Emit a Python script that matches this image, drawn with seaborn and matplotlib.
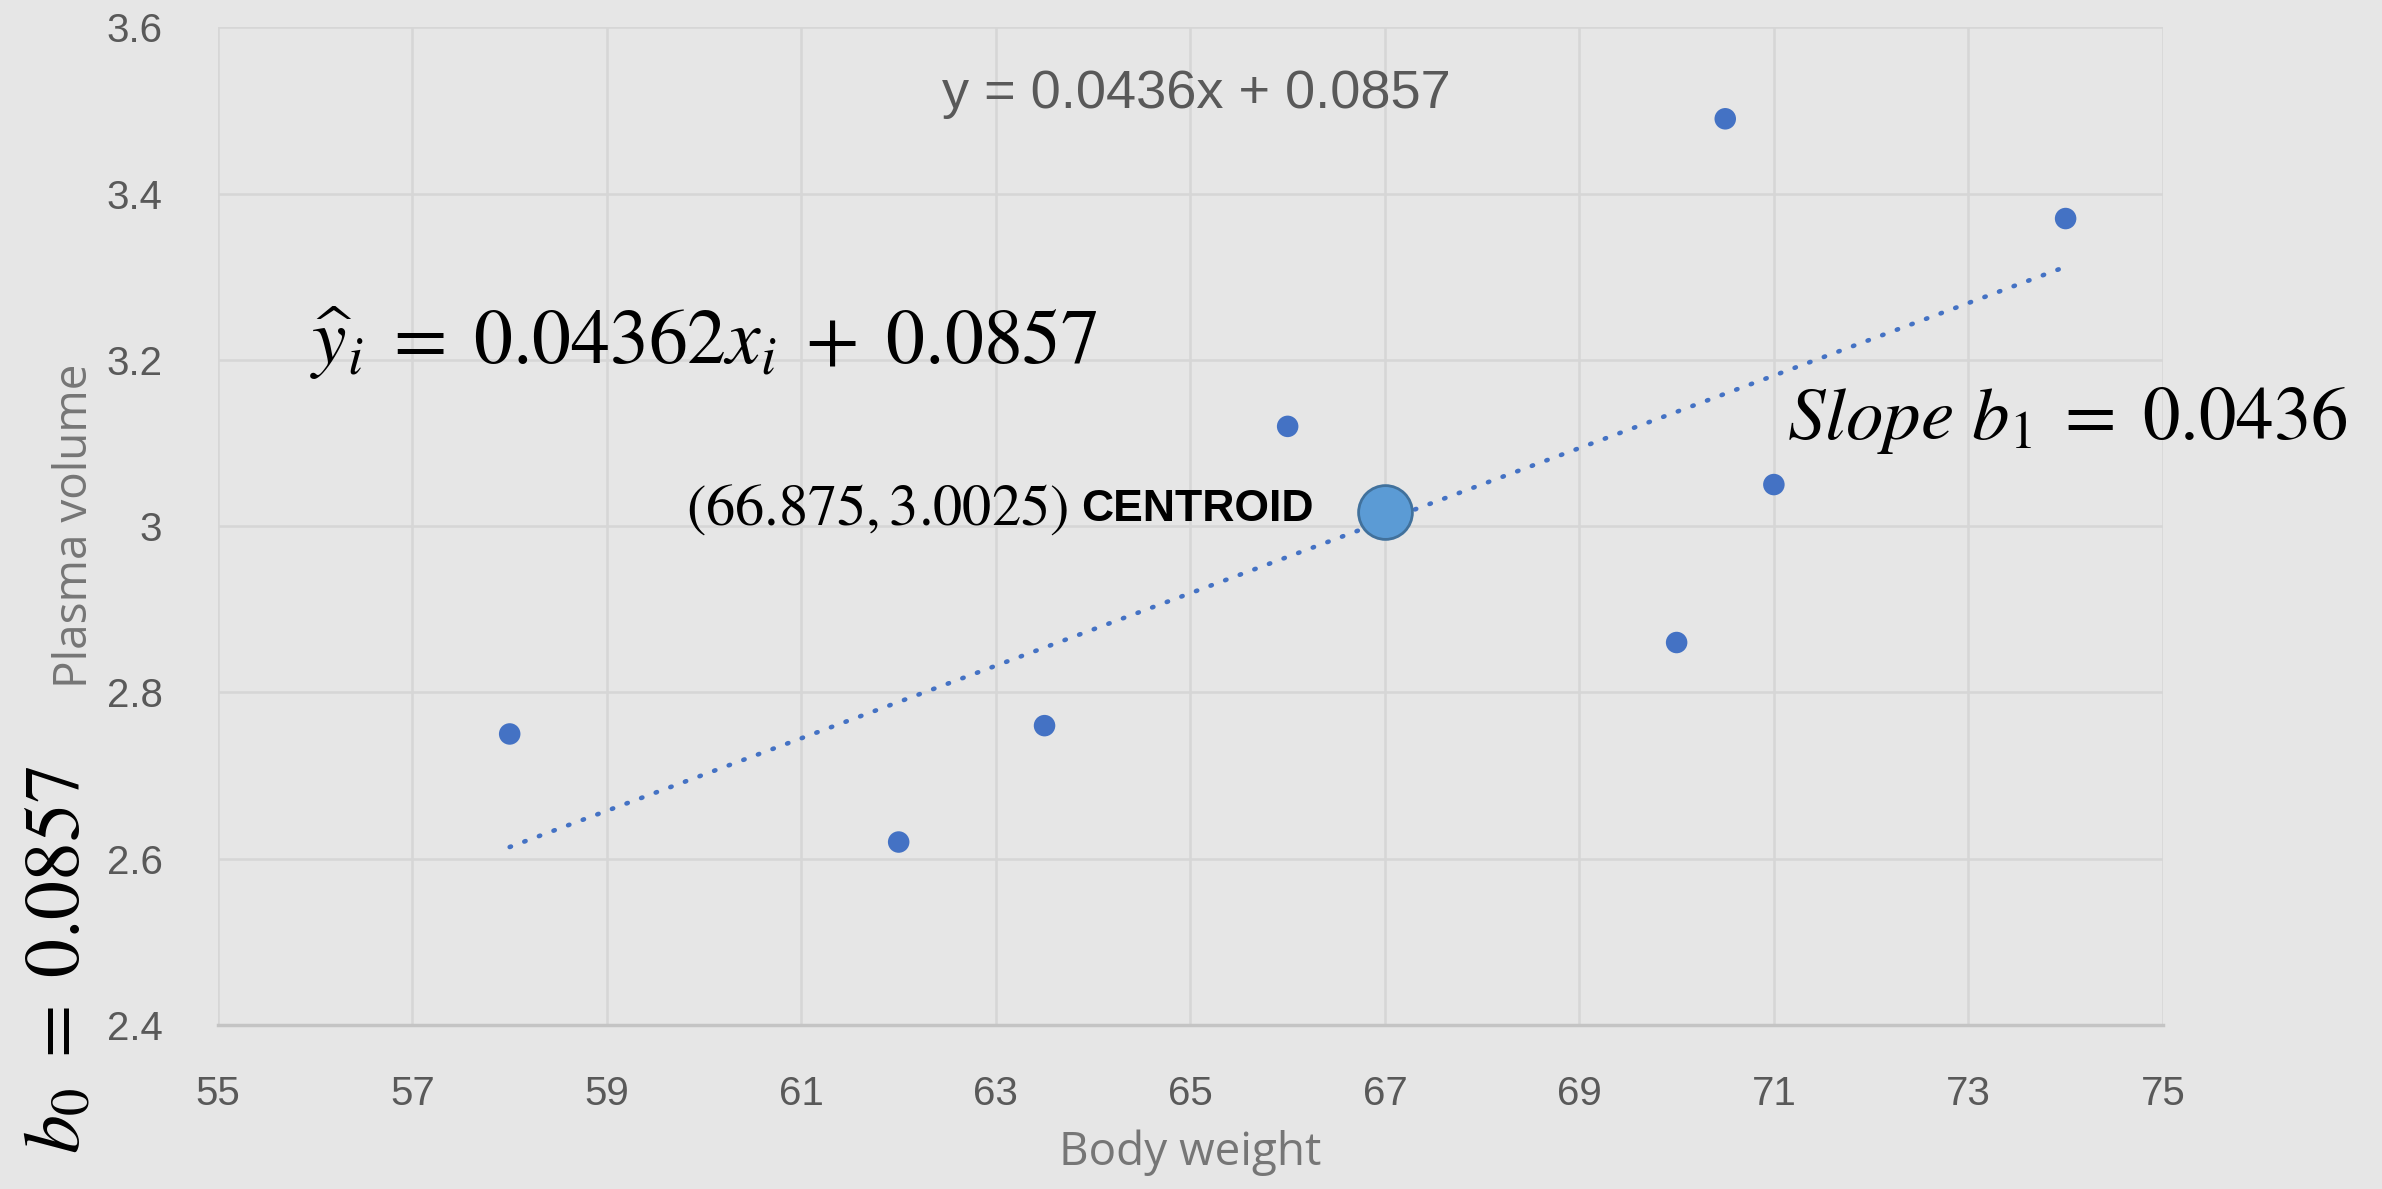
import matplotlib
matplotlib.use("Agg")
import matplotlib.pyplot as plt
import seaborn as sns
import pandas as pd

# ---- data ----
body_weight = [58, 62, 63.5, 66, 70, 70.5, 71, 74]
plasma_volume = [2.75, 2.62, 2.76, 3.12, 2.86, 3.49, 3.05, 3.37]
trend_x = [58, 74]
trend_y = [2.614, 3.312]
centroid_x = [67.0]
centroid_y = [3.017]
x_ticks = [55, 57, 59, 61, 63, 65, 67, 69, 71, 73, 75]
y_ticks = [2.4, 2.6, 2.8, 3.0, 3.2, 3.4, 3.6]
y_tick_labels = ["2.4", "2.6", "2.8", "3", "3.2", "3.4", "3.6"]

BG = "#e6e6e6"
GRID = "#d6d6d6"
BLUE = "#4472c4"
TICK = "#595959"

sns.set_theme(style="whitegrid")
plt.rcParams["font.family"] = ["Liberation Sans", "DejaVu Sans"]
plt.rcParams["mathtext.fontset"] = "stix"

fig = plt.figure(figsize=(23.82, 11.89), dpi=100, facecolor=BG)
ax = fig.add_axes([0.0915, 0.138, 0.8165, 0.839])
ax.set_facecolor(BG)

df = pd.DataFrame({"Body weight": body_weight, "Plasma volume": plasma_volume})
tr = pd.DataFrame({"x": trend_x, "y": trend_y})
cen = pd.DataFrame({"x": centroid_x, "y": centroid_y})

sns.lineplot(data=tr, x="x", y="y", ax=ax, color=BLUE, linewidth=3.3,
             linestyle=(0, (0.3, 3.1)), dash_capstyle="round", zorder=3)
sns.scatterplot(data=df, x="Body weight", y="Plasma volume", ax=ax, color=BLUE,
                s=240, edgecolor="none", zorder=4)
sns.scatterplot(data=cen, x="x", y="y", ax=ax, color="#5b9bd5", s=1500,
                edgecolor="#41719c", linewidth=2, zorder=5)

ax.set_xlim(55, 75)
ax.set_ylim(2.4, 3.6)
ax.set_xticks(x_ticks)
ax.set_yticks(y_ticks)
ax.set_yticklabels(y_tick_labels)
ax.grid(True, color=GRID, linewidth=1.8)
ax.tick_params(axis="both", length=0, labelsize=29, labelcolor=TICK)
ax.tick_params(axis="x", pad=36)
ax.tick_params(axis="y", pad=40)
for side in ["top", "right", "left"]:
    ax.spines[side].set_visible(False)
ax.spines["bottom"].set_color("#c4c4c4")
ax.spines["bottom"].set_linewidth(2.5)

ax.set_xlabel("Body weight", fontsize=33, color="#767676", family=["Open Sans", "DejaVu Sans"], labelpad=12)
ax.set_ylabel("Plasma volume", fontsize=33, color="#767676", family=["Open Sans", "DejaVu Sans"], labelpad=6)

# annotations
ax.text(65.06, 3.52, "y = 0.0436x + 0.0857", fontsize=39, color=TICK, ha="center", va="center")
ax.text(55.95, 3.22, r"$\widehat{y}_i\;=\;0.04362x_i\;+\;0.0857$", fontsize=56, color="black",
        ha="left", va="center")
ax.text(71.14, 3.127, r"$Slope\ b_1\;=\;0.0436$", fontsize=54, color="black", ha="left", va="center")
ax.text(59.81, 3.02, r"$(66.875, 3.0025)$", fontsize=42, color="black", ha="left", va="center")
ax.text(63.88, 3.02, "CENTROID", fontsize=32, fontweight="bold", color="black",
        ha="left", va="center")
fig.text(0.0245, 0.193, r"$b_0\;=\;0.0857$", fontsize=56, color="black", rotation=90,
         ha="center", va="center")

fig.savefig("out.png", dpi=100, facecolor=BG)
